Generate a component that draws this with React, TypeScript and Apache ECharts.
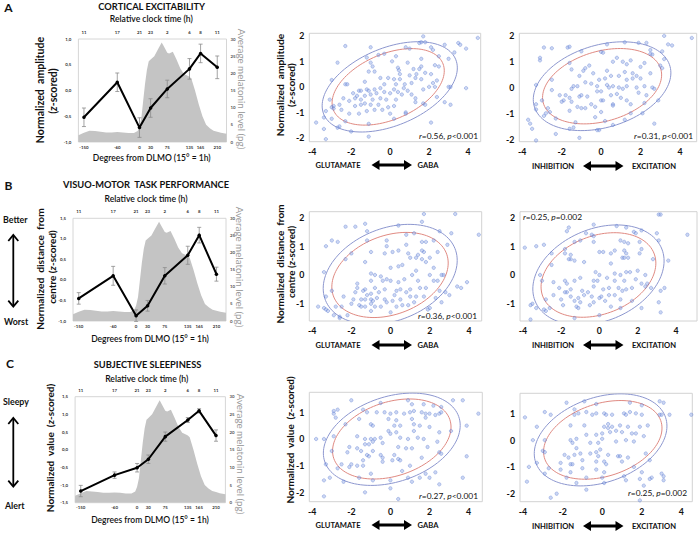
import React, { useEffect, useRef } from 'react';
import * as echarts from 'echarts';

// ---------------- DATA ----------------
const dlmoTicks = [-150, -60, 0, 30, 75, 135, 165, 210];
const clockLabels = ['11', '17', '21', '23', '2', '6', '8', '11'];

const meloX = [-165, -150, -135, -120, -105, -90, -75, -60, -45, -30, -15, -5, 0, 5, 10, 15, 20, 25, 30, 40, 50, 60, 65, 75, 80, 90, 100, 110, 120, 130, 135, 140, 150, 160, 170, 180, 190, 200, 210, 220, 235];
const meloY = [2, 2.7, 3.3, 3.2, 3.0, 2.8, 2.8, 2.9, 2.8, 2.6, 2.6, 3.2, 4.5, 7, 12, 17, 21, 23.5, 24, 25, 27, 29, 28, 26, 25.8, 26.3, 24, 21.5, 19.8, 19.3, 19, 18.5, 15, 11, 7.5, 5, 4, 3.3, 3, 2.7, 2.4];

const excMean = [-0.52, 0.16, -0.72, -0.34, 0.03, 0.42, 0.72, 0.45];
const excErr = [0.18, 0.18, 0.19, 0.18, 0.17, 0.2, 0.18, 0.22];
const vmMean = [-0.45, 0.1, -0.87, -0.63, 0.1, 0.6, 1.09, 0.14];
const vmErr = [0.14, 0.23, 0.14, 0.13, 0.2, 0.22, 0.19, 0.17];
const slMean = [-1.17, -0.72, -0.51, -0.27, 0.37, 0.84, 1.1, 0.4];
const slErr = [0.16, 0.09, 0.12, 0.12, 0.13, 0.07, 0.06, 0.16];

const ctxGluPts = [[4.5, 1.92], [1.7, 1.98], [1.6, 1.75], [1.8, 1.75], [1.5, 1.72], [3.5, 1.72], [3.6, 1.65], [3.9, 1.5], [2.8, 1.65], [-2.3, 1.6], [-1.0, 1.55], [0.8, 1.55], [1.0, 1.5], [2.1, 1.55], [2.2, 1.45], [3.3, 1.35], [-0.6, 1.25], [-0.3, 1.3], [0.3, 1.2], [-1.2, 1.15], [2.5, 1.2], [3.0, 1.1], [1.6, 1.1], [-2.7, 0.95], [-1.0, 0.95], [0.1, 1.0], [0.9, 0.95], [-0.9, 0.8], [2.3, 0.85], [1.6, 0.8], [2.5, 0.8], [0.4, 0.75], [0.45, 0.65], [1.2, 0.7], [1.5, 0.7], [-1.1, 0.6], [-0.8, 0.6], [1.8, 0.55], [-0.1, 0.35], [0.5, 0.5], [1.0, 0.45], [1.35, 0.5], [2.1, 0.5], [-2.3, 0.1], [-2.2, 0.1], [-3.0, 0.27], [-0.5, 0.35], [0.2, 0.3], [0.5, 0.3], [1.6, 0.3], [2.4, 0.25], [2.2, 0.15], [-1.3, 0.2], [-0.3, 0.1], [0.3, 0.1], [0.75, 0.1], [1.1, 0.15], [1.3, 0.35], [2.0, 0.0], [2.3, 0.0], [3.0, 0.0], [3.1, 0.0], [3.9, -0.05], [-1.6, -0.15], [-1.5, -0.15], [-1.2, -0.1], [-1.1, -0.15], [-0.8, -0.1], [-0.5, -0.05], [0.2, -0.1], [0.4, -0.2], [0.7, -0.05], [0.9, -0.15], [1.7, -0.1], [-1.9, -0.25], [-1.7, -0.35], [-1.3, -0.35], [-1.0, -0.3], [-0.7, -0.25], [-0.3, -0.2], [0.0, -0.25], [0.6, -0.3], [1.1, -0.3], [2.4, -0.4], [-3.1, -0.5], [-2.4, -0.45], [-2.1, -0.55], [-1.5, -0.5], [-1.8, -0.45], [-0.9, -0.5], [-0.5, -0.45], [-0.2, -0.5], [0.3, -0.5], [1.3, -0.45], [3.1, -0.7], [-3.0, -0.8], [-2.9, -0.75], [-2.9, -0.85], [-2.6, -0.7], [-1.8, -0.75], [-1.5, -0.7], [-1.3, -0.65], [-1.0, -0.7], [-0.6, -0.7], [-0.1, -0.8], [0.2, -0.75], [1.3, -0.6], [1.7, -0.65], [1.8, -0.7], [2.8, -0.6], [-3.3, -0.95], [-2.5, -0.9], [-2.1, -1.05], [-1.6, -1.05], [-1.2, -0.95], [-0.8, -0.9], [-0.4, -0.9], [0.0, -1.05], [0.8, -1.0], [-2.3, -1.35], [-3.0, -1.25], [-3.4, -1.2], [-2.6, -1.55], [-3.4, -1.65], [-2.0, -1.75], [-1.1, -1.45], [0.2, -1.25], [0.8, -1.05], [2.1, -1.4], [-3.3, -2.05], [-1.1, -1.95], [-3.8, -1.4], [-2.7, -1.6]];

const ctxExcPts = [[4.6, 1.92], [3.2, 2.0], [3.4, 1.67], [3.6, 1.63], [1.2, 1.75], [1.9, 1.73], [2.3, 1.73], [0.3, 1.67], [-1.7, 1.55], [-1.6, 1.58], [-2.9, 1.55], [-2.5, 1.52], [-1.0, 1.4], [0.0, 1.38], [0.1, 1.35], [3.1, 1.4], [2.5, 1.45], [2.6, 1.28], [2.5, 1.3], [-3.1, 1.15], [-3.1, 1.05], [-1.6, 0.95], [0.8, 1.15], [1.5, 1.05], [1.1, 1.0], [-1.5, 0.7], [-0.8, 0.75], [-0.9, 0.65], [-0.6, 0.85], [0.6, 1.0], [1.3, 0.9], [2.0, 0.8], [2.2, 0.95], [3.0, 0.85], [3.1, 0.75], [3.2, 1.1], [-0.4, 0.55], [0.3, 0.65], [0.5, 0.45], [0.9, 0.45], [1.2, 0.6], [1.6, 0.55], [1.8, 0.45], [2.5, 0.55], [-2.5, 0.3], [-1.1, 0.45], [-0.1, 0.3], [0.2, 0.35], [1.3, 0.3], [1.6, 0.35], [2.0, 0.35], [-3.3, 0.1], [-1.4, 0.05], [-1.5, -0.05], [-1.2, 0.05], [-0.8, 0.2], [-0.5, 0.15], [-0.2, 0.05], [0.3, 0.1], [0.4, 0.0], [0.6, 0.05], [0.9, 0.0], [1.1, -0.05], [1.3, 0.05], [1.8, 0.0], [2.2, 0.05], [2.6, 0.0], [2.7, -0.05], [-2.5, -0.1], [-2.1, -0.3], [-1.8, -0.3], [-1.6, -0.4], [-1.9, -0.5], [-1.1, -0.35], [-1.0, -0.3], [-0.7, -0.35], [-0.2, -0.15], [0.0, -0.15], [0.5, -0.3], [0.8, -0.25], [1.0, -0.4], [1.3, -0.5], [1.9, -0.2], [2.3, -0.3], [2.9, -0.5], [-3.0, -0.5], [-2.0, -0.55], [-1.5, -0.55], [-1.2, -0.75], [-0.8, -0.8], [-0.5, -0.65], [0.0, -0.5], [0.1, -0.5], [0.6, -0.65], [0.6, -0.7], [1.5, -0.65], [2.2, -0.6], [-3.3, -0.65], [-2.7, -0.8], [-2.6, -0.95], [-2.8, -1.0], [-1.6, -0.9], [-1.0, -0.8], [-0.3, -0.75], [0.0, -0.95], [1.5, -1.0], [2.1, -1.0], [-3.3, -0.85], [-2.3, -1.2], [-1.3, -1.35], [-0.3, -1.15], [0.2, -1.3], [0.6, -1.45], [1.2, -1.25], [2.7, -1.4], [-3.7, -1.25], [-3.6, -1.4], [-3.5, -1.6], [-2.3, -1.8], [-1.6, -1.6], [-1.4, -1.55], [-1.1, -1.95], [-0.1, -1.65], [-3.3, -2.05], [-2.9, -1.1], [-0.2, -1.65]];

const vmGluPts = [[1.7, 2.12], [3.3, 2.12], [4.5, 1.4], [1.6, 1.85], [-1.3, 1.78], [0.4, 1.72], [-2.3, 1.68], [-1.8, 1.68], [-1.2, 1.52], [2.5, 1.52], [3.1, 1.45], [1.2, 1.45], [0.8, 1.4], [-3.0, 1.2], [-2.7, 1.15], [1.6, 1.15], [1.8, 1.15], [2.2, 1.2], [-1.2, 1.2], [-0.2, 1.2], [-3.3, 1.0], [-0.2, 1.0], [0.8, 1.05], [2.9, 1.05], [-2.0, 0.75], [-1.0, 0.8], [-0.3, 0.75], [0.1, 0.8], [0.4, 0.85], [0.9, 0.75], [1.4, 0.7], [1.7, 0.8], [1.6, 0.85], [2.4, 0.8], [-2.3, 0.55], [-1.3, 0.45], [1.0, 0.6], [1.3, 0.6], [1.6, 0.55], [2.0, 0.6], [1.8, 0.45], [0.0, 0.25], [0.4, 0.3], [0.6, 0.35], [1.3, 0.15], [2.2, 0.25], [-3.4, 0.1], [-1.0, 0.05], [-0.5, -0.05], [-0.8, 0.0], [1.1, 0.0], [2.0, 0.0], [2.7, 0.0], [2.6, 0.0], [-1.7, -0.3], [-1.0, -0.2], [-0.4, -0.2], [-0.2, -0.15], [0.0, -0.2], [0.4, -0.25], [0.7, -0.15], [1.4, -0.2], [2.2, -0.2], [2.4, -0.2], [3.9, -0.25], [3.6, -0.45], [3.4, -0.4], [-1.7, -0.45], [-1.3, -0.5], [-0.8, -0.45], [-0.3, -0.5], [0.3, -0.55], [0.5, -0.5], [1.0, -0.5], [1.5, -0.45], [1.8, -0.45], [2.5, -0.55], [-3.0, -0.55], [-1.8, -0.6], [-1.4, -0.55], [-1.2, -0.7], [-1.0, -0.65], [-0.6, -0.6], [0.2, -0.7], [0.8, -0.6], [1.3, -0.75], [1.7, -0.75], [2.8, -0.6], [-3.3, -0.75], [-2.4, -0.75], [-1.9, -0.85], [-1.5, -0.85], [-1.3, -0.85], [-1.0, -0.85], [-0.9, -0.9], [-0.7, -0.8], [-0.3, -0.85], [0.1, -0.9], [0.5, -0.85], [1.0, -0.75], [2.3, -0.8], [3.0, -0.7], [-2.0, -1.0], [-1.6, -1.05], [-1.0, -1.0], [-0.8, -1.1], [-0.2, -0.95], [0.6, -1.05], [1.2, -0.95], [2.6, -0.95], [-2.8, -1.1], [-2.5, -1.1], [-1.5, -1.1], [-1.3, -1.1], [-0.5, -1.1], [0.3, -1.1], [0.9, -1.05], [-3.7, -1.1], [-3.4, -1.15], [-3.3, -1.2], [-3.2, -1.25], [-2.9, -1.4], [-2.6, -1.45], [-2.6, -1.5], [-2.2, -1.4], [-1.0, -1.25], [0.0, -1.3], [1.9, -1.2], [2.0, -1.15]];

const vmExcPts = [[3.1, 2.1], [3.2, 2.1], [4.6, 1.4], [-1.6, 1.65], [-0.3, 1.75], [0.9, 1.7], [1.4, 1.65], [-1.7, 1.52], [-1.3, 1.15], [-1.0, 1.2], [-0.7, 1.45], [-0.4, 1.4], [-0.3, 1.35], [1.8, 1.5], [1.9, 1.45], [2.2, 1.55], [3.0, 1.45], [-3.9, 0.95], [-3.3, 1.0], [-2.9, 1.05], [-0.3, 1.15], [1.1, 1.2], [1.3, 1.15], [1.5, 1.1], [2.1, 1.15], [3.1, 1.2], [-2.5, 0.75], [-1.8, 0.9], [-1.8, 0.75], [-1.5, 0.7], [0.2, 0.8], [0.0, 0.8], [0.8, 0.85], [0.6, 0.75], [1.3, 0.85], [1.4, 0.75], [2.1, 0.75], [2.2, 0.9], [-1.5, 0.55], [-1.3, 0.5], [-1.6, 0.55], [1.2, 0.6], [1.3, 0.6], [1.5, 0.6], [2.8, 0.55], [3.6, 0.5], [-2.5, 0.35], [-0.8, 0.45], [0.6, 0.4], [-3.1, 0.0], [-0.2, 0.1], [0.0, 0.0], [0.8, 0.05], [1.1, 0.0], [1.4, 0.1], [1.6, 0.1], [2.0, 0.15], [2.4, 0.0], [-3.0, -0.2], [-2.4, -0.25], [-1.8, -0.2], [-1.7, -0.3], [-1.3, -0.2], [-1.0, -0.1], [-0.3, -0.2], [-0.1, -0.2], [0.4, -0.1], [0.8, -0.2], [1.3, -0.2], [1.9, -0.15], [2.2, -0.3], [2.5, -0.3], [3.4, -0.45], [-2.1, -0.45], [-1.5, -0.5], [-0.9, -0.55], [-0.6, -0.6], [-0.3, -0.4], [0.2, -0.5], [0.5, -0.45], [1.0, -0.45], [1.4, -0.5], [1.7, -0.45], [2.4, -0.4], [2.7, -0.45], [3.2, -0.55], [-2.4, -0.7], [-1.7, -0.6], [-1.5, -0.75], [-1.1, -0.8], [-0.8, -0.7], [-0.4, -0.75], [0.1, -0.75], [0.5, -0.7], [0.8, -0.7], [1.2, -0.55], [-2.8, -0.85], [-2.0, -0.85], [-1.3, -0.9], [-1.0, -0.95], [-0.3, -0.95], [0.3, -0.9], [1.1, -0.85], [1.7, -0.9], [-3.5, -1.0], [-3.6, -1.05], [-3.3, -1.15], [-2.9, -1.2], [-2.8, -1.25], [-2.6, -1.15], [-1.9, -1.05], [-1.2, -1.1], [-1.1, -1.15], [-0.5, -1.05], [0.6, -1.1], [1.1, -1.15], [2.2, -1.15], [3.2, -1.3], [3.1, -0.95], [-3.6, -1.55], [-1.3, -1.5], [0.0, -1.4], [-1.8, -0.6], [0.0, -0.8]];

const slGluPts = [[4.5, 0.95], [3.7, 1.45], [3.2, 1.45], [0.9, 1.45], [1.1, 1.3], [-2.0, 1.45], [-0.5, 1.35], [1.7, 1.3], [2.2, 1.25], [2.6, 1.2], [-2.9, 1.05], [-2.7, 1.1], [-2.9, 0.95], [-1.4, 1.1], [-1.2, 1.0], [-0.7, 1.0], [-0.3, 1.0], [0.0, 0.95], [0.3, 1.0], [0.7, 0.95], [1.0, 1.0], [1.2, 1.05], [1.6, 1.0], [1.8, 0.95], [2.0, 0.95], [2.3, 0.9], [2.5, 0.95], [2.6, 1.0], [-2.8, 0.8], [-1.6, 0.75], [-0.1, 0.75], [0.3, 0.7], [1.1, 0.75], [1.8, 0.8], [-2.3, 0.55], [-1.0, 0.55], [-0.9, 0.5], [0.2, 0.5], [0.5, 0.5], [1.2, 0.55], [1.5, 0.5], [2.0, 0.45], [3.1, 0.3], [3.9, 0.5], [-2.9, 0.1], [-1.7, 0.1], [-0.1, 0.3], [0.0, 0.2], [0.3, 0.25], [1.2, 0.3], [2.5, 0.25], [-3.8, 0.0], [-3.4, 0.0], [-1.3, 0.0], [-1.0, 0.0], [-0.8, 0.0], [-0.5, 0.05], [0.5, 0.05], [0.9, 0.0], [1.4, 0.05], [1.7, 0.0], [2.4, -0.1], [-2.1, -0.3], [-1.7, -0.35], [-1.3, -0.2], [-1.1, -0.2], [-0.9, -0.1], [-0.4, -0.15], [0.4, -0.3], [0.8, -0.35], [1.1, -0.35], [1.9, -0.3], [2.5, -0.5], [2.6, -0.55], [-3.0, -0.45], [-2.2, -0.5], [-1.5, -0.45], [-1.2, -0.6], [-0.9, -0.45], [-0.5, -0.6], [0.2, -0.6], [0.4, -0.75], [1.6, -0.7], [3.9, -0.65], [-2.5, -0.95], [-2.0, -0.95], [-1.7, -1.0], [-1.4, -0.8], [-1.1, -0.65], [-0.4, -0.85], [0.1, -0.8], [0.5, -0.8], [-3.3, -0.95], [-2.7, -1.1], [-2.1, -1.05], [-1.4, -1.0], [-1.0, -1.3], [0.6, -1.2], [1.8, -1.3], [2.3, -1.25], [-3.1, -1.45], [-2.4, -1.6], [-1.6, -1.45], [-0.9, -1.55], [0.0, -1.55], [0.9, -1.45], [1.1, -1.6], [1.5, -1.45], [2.0, -1.45], [2.5, -1.7], [3.7, -1.45], [-3.4, -1.55], [-1.3, -2.0], [0.0, -1.85], [0.4, -2.25], [-3.4, -2.15], [-0.4, -0.7], [1.0, -1.0]];

const slExcPts = [[4.5, 0.95], [3.1, 1.4], [2.9, 1.45], [1.4, 1.4], [2.0, 1.3], [-1.8, 1.4], [-0.9, 1.45], [-0.3, 1.35], [-3.9, 0.85], [-2.6, 0.95], [-1.4, 1.15], [-1.2, 1.0], [-1.4, 0.95], [-0.8, 1.05], [-0.5, 0.95], [-0.3, 1.0], [0.1, 1.0], [0.2, 0.95], [0.5, 0.95], [1.1, 1.0], [1.2, 0.95], [1.4, 1.05], [1.7, 1.0], [2.0, 0.95], [2.9, 0.95], [3.0, 0.95], [3.4, 0.95], [-3.3, 0.5], [-2.9, 1.05], [-1.6, 0.55], [-0.9, 0.55], [0.1, 0.5], [0.3, 0.45], [0.5, 0.5], [0.9, 0.55], [1.3, 0.5], [1.9, 0.5], [2.3, 0.55], [-3.5, 0.0], [-2.9, 0.0], [-1.6, 0.0], [-1.3, 0.05], [-0.8, 0.2], [-0.3, 0.2], [0.0, 0.25], [0.4, 0.3], [0.7, 0.35], [1.0, 0.3], [1.5, 0.25], [1.7, 0.25], [-1.5, -0.1], [-1.3, -0.3], [-0.6, -0.1], [-0.2, -0.1], [0.0, 0.05], [0.7, -0.05], [1.2, 0.0], [1.6, -0.05], [2.1, 0.15], [-3.0, -0.4], [-2.9, -0.45], [-1.9, -0.55], [-1.7, -0.65], [-1.4, -0.55], [-1.1, -0.5], [-0.6, -0.5], [-0.3, -0.45], [-0.1, -0.35], [0.3, -0.55], [0.8, -0.6], [1.3, -0.65], [2.2, -0.5], [2.4, -0.75], [-3.3, -0.85], [-2.1, -0.85], [-1.6, -0.9], [-1.5, -0.9], [-1.0, -0.75], [-0.2, -0.6], [0.1, -0.8], [0.2, -0.9], [0.9, -0.6], [1.0, -0.8], [-3.7, -1.0], [-2.7, -1.05], [-2.1, -1.1], [-1.6, -1.2], [-1.0, -1.05], [-0.3, -1.1], [0.1, -1.2], [1.6, -1.0], [2.0, -1.2], [2.5, -1.4], [-2.9, -1.25], [-1.8, -1.4], [-0.8, -1.4], [0.0, -1.4], [1.1, -1.35], [1.9, -1.45], [2.4, -1.45], [3.0, -1.25], [3.1, -1.35], [3.1, -1.5], [-3.8, -1.55], [-2.3, -2.0], [-2.6, -2.15], [-1.3, -1.6], [-0.8, -1.85], [0.1, -1.6], [1.2, -1.5], [1.9, -2.25], [2.1, -1.7], [-0.3, -0.8], [0.3, 0.6]];

// ellipse params: [cx, cy, rx, ry, tilt, colorIndex(0 red, 1 blue)]
const ctxGluEll = [[-0.1, 0, 2.88, 1.5, 0.42, 0], [-0.02, 0, 3.47, 1.77, 0.42, 1]];
const ctxExcEll = [[0.05, 0.05, 3.02, 1.46, 0.3, 0], [0.05, 0.05, 3.49, 1.72, 0.3, 1]];
const vmGluEll = [[-0.03, 0, 2.97, 1.48, 0.28, 0], [-0.02, 0.02, 3.42, 1.74, 0.28, 1]];
const vmExcEll = [[-0.05, 0, 3.0, 1.47, 0.28, 0], [-0.05, 0, 3.43, 1.74, 0.28, 1]];
const slGluEll = [[0.07, 0, 3.03, 1.5, 0.3, 0], [0.07, -0.01, 3.5, 1.73, 0.3, 1]];
const slExcEll = [[0.03, 0.01, 2.99, 1.47, 0.3, 0], [-0.08, 0.01, 3.35, 1.72, 0.3, 1]];

// ---------------- BUILD ----------------
const FONT = 'Lato, "Open Sans", "Liberation Sans", sans-serif';

function errorBar(params: any, api: any) {
  const x = api.value(0);
  const lo = api.coord([x, api.value(1)]);
  const hi = api.coord([x, api.value(2)]);
  const c = 2;
  const style = { stroke: '#8c8c8c', lineWidth: 0.8 };
  return {
    type: 'group',
    children: [
      { type: 'line', shape: { x1: lo[0], y1: lo[1], x2: hi[0], y2: hi[1] }, style },
      { type: 'line', shape: { x1: lo[0] - c, y1: lo[1], x2: lo[0] + c, y2: lo[1] }, style },
      { type: 'line', shape: { x1: hi[0] - c, y1: hi[1], x2: hi[0] + c, y2: hi[1] }, style },
    ],
  };
}

function ellipseItem(params: any, api: any) {
  const cx = api.value(0), cy = api.value(1), rx = api.value(2), ry = api.value(3), rho = api.value(4), ci = api.value(5);
  const pts: number[][] = [];
  const s = Math.sqrt(1 - rho * rho);
  for (let k = 0; k <= 120; k++) {
    const t = (k / 120) * Math.PI * 2;
    pts.push(api.coord([cx + rx * Math.cos(t), cy + ry * (rho * Math.cos(t) + s * Math.sin(t))]));
  }
  return {
    type: 'polyline',
    shape: { points: pts },
    style: { stroke: ci ? '#8d97cf' : '#e08a82', lineWidth: 1, fill: null },
  };
}

// wrap plain segments of a text into {n|...} so every part gets the same font
function wrapRich(text: string) {
  if (text.indexOf('{') < 0) return text;
  const parts = text.split(/(\{[a-z]\|[^}]*\})/);
  return parts.filter((p) => p.length > 0).map((p) => (p.charAt(0) === '{' ? p : '{n|' + p + '}')).join('');
}

function buildOption() {
  const grids: any[] = [];
  const xAxes: any[] = [];
  const yAxes: any[] = [];
  const series: any[] = [];
  const noLine = { axisLine: { show: false }, axisTick: { show: false }, splitLine: { show: false } };
  const tiny = { fontSize: 4.4, fontWeight: 'bold', color: '#333', fontFamily: FONT };

  function addLine(g: number[], yMin: number, yMax: number, mean: number[], err: number[]) {
    const gi = grids.length;
    grids.push({ left: g[0], top: g[1], width: g[2], height: g[3], show: true, borderColor: '#d6d6d6', borderWidth: 1, backgroundColor: 'transparent' });
    const xb = xAxes.length;
    const findTick = (v: number) => dlmoTicks.findIndex((t) => Math.abs(t - v) < 1e-6);
    xAxes.push({
      type: 'value', gridIndex: gi, min: -165, max: 235, interval: 15, position: 'bottom', ...noLine,
      axisLabel: { ...tiny, margin: 3, interval: 0, hideOverlap: false, showMinLabel: true, showMaxLabel: true,
        formatter: (v: number) => { const i = findTick(v); return i >= 0 ? String(dlmoTicks[i]) : ''; } },
    });
    xAxes.push({
      type: 'value', gridIndex: gi, min: -165, max: 235, interval: 15, position: 'top', ...noLine,
      axisLabel: { ...tiny, margin: 4.5, interval: 0, hideOverlap: false, showMinLabel: true, showMaxLabel: true,
        formatter: (v: number) => { const i = findTick(v); return i >= 0 ? clockLabels[i] : ''; } },
    });
    const yl = yAxes.length;
    yAxes.push({
      type: 'value', gridIndex: gi, min: yMin, max: yMax, interval: 0.5, position: 'left', ...noLine,
      axisLabel: { ...tiny, margin: 7, formatter: (v: number) => v.toFixed(1).replace('.', ',') },
    });
    yAxes.push({
      type: 'value', gridIndex: gi, min: 0, max: 30, interval: 5, position: 'right', ...noLine,
      axisLabel: { ...tiny, color: '#555', margin: 4, formatter: (v: number) => String(v) },
    });
    series.push({
      type: 'line', xAxisIndex: xb, yAxisIndex: yl + 1, data: meloX.map((x, i) => [x, meloY[i]]),
      showSymbol: false, symbol: 'none', lineStyle: { width: 0 }, areaStyle: { color: '#c4c4c4', opacity: 1 }, z: 1, silent: true,
    });
    series.push({
      type: 'custom', xAxisIndex: xb, yAxisIndex: yl, coordinateSystem: 'cartesian2d',
      data: dlmoTicks.map((x, i) => [x, mean[i] - err[i], mean[i] + err[i]]),
      encode: { x: 0, y: [1, 2] }, renderItem: errorBar, z: 2, silent: true,
    });
    series.push({
      type: 'line', xAxisIndex: xb, yAxisIndex: yl, data: dlmoTicks.map((x, i) => [x, mean[i]]),
      symbol: 'circle', symbolSize: 3.5, itemStyle: { color: '#000' }, lineStyle: { color: '#000', width: 2 }, z: 3, silent: true,
    });
  }

  function addScatter(g: number[], xr: number[], yr: number[], pts: number[][], ell: number[][]) {
    const gi = grids.length;
    grids.push({ left: g[0], top: g[1], width: g[2], height: g[3], show: true, borderColor: '#d2d2d2', borderWidth: 1, backgroundColor: 'transparent' });
    const lab = { fontSize: 8.8, fontWeight: 'bold', color: '#111', fontFamily: FONT, interval: 0, hideOverlap: false, showMinLabel: true, showMaxLabel: true };
    const xi = xAxes.length;
    xAxes.push({
      type: 'value', gridIndex: gi, min: xr[0], max: xr[1], interval: 0.05, ...noLine,
      axisLabel: { ...lab, margin: 5, formatter: (v: number) => { const r = Math.round(v); return Math.abs(v - r) < 1e-6 && r % 2 === 0 ? String(r) : ''; } },
    });
    const yi = yAxes.length;
    yAxes.push({
      type: 'value', gridIndex: gi, min: yr[0], max: yr[1], interval: 0.05, ...noLine,
      axisLabel: { ...lab, margin: 5, formatter: (v: number) => { const r = Math.round(v); return Math.abs(v - r) < 1e-6 ? String(r) : ''; } },
    });
    series.push({
      type: 'custom', xAxisIndex: xi, yAxisIndex: yi, coordinateSystem: 'cartesian2d', data: ell,
      encode: { x: 0, y: 1 }, renderItem: ellipseItem, clip: true, z: 2, silent: true,
    });
    series.push({
      type: 'scatter', xAxisIndex: xi, yAxisIndex: yi, data: pts, symbol: 'circle', symbolSize: 3.4,
      itemStyle: { color: 'rgba(140,165,228,0.55)', borderColor: 'rgba(70,105,200,0.8)', borderWidth: 0.5 }, z: 3, silent: true,
    });
  }

  addLine([78.4, 39, 148.1, 103], -1, 1, excMean, excErr);
  addLine([73, 218.3, 153, 102.7], -1, 1.5, vmMean, vmErr);
  addLine([75.1, 396.7, 150.3, 106], -1.5, 1.5, slMean, slErr);

  addScatter([309.3, 33.3, 171.4, 108.4], [-4.15, 4.65], [-2.15, 2.1], ctxGluPts, ctxGluEll);
  addScatter([519.3, 33.3, 177.4, 108.4], [-4.15, 4.85], [-2.1, 2.1], ctxExcPts, ctxExcEll);
  addScatter([309.3, 211.7, 172.4, 109.3], [-4.15, 4.65], [-1.6, 2.2], vmGluPts, vmGluEll);
  addScatter([520, 211.7, 178, 109.3], [-4.15, 5.1], [-1.6, 2.2], vmExcPts, vmExcEll);
  addScatter([309.3, 392.3, 173, 109.4], [-4.15, 4.7], [-2.35, 1.75], slGluPts, slGluEll);
  addScatter([520, 393.3, 172.3, 108.4], [-4.15, 4.55], [-2.3, 1.75], slExcPts, slExcEll);

  // ---------- graphic texts ----------
  const G: any[] = [];
  const txt = (x: number, y: number, text: string, o: any = {}) => {
    const align = o.align || 'center';
    const size = o.size || 8;
    const weight = o.weight || 'bold';
    const color = o.color || '#111';
    const rich: any = {
      i: { fontStyle: 'italic', fontSize: size, fontWeight: weight, fontFamily: FONT, fill: color, color },
      n: { fontStyle: 'normal', fontSize: size, fontWeight: weight, fontFamily: FONT, fill: color, color },
    };
    G.push({
      type: 'text', x, y, rotation: o.rot || 0, silent: true, z: 100,
      style: {
        text: wrapRich(text), rich, fontSize: size, fontWeight: weight, fontFamily: FONT, fill: color,
        align, verticalAlign: 'middle', textAlign: align, textVerticalAlign: 'middle',
      },
    });
  };
  const R = Math.PI / 2;
  const hArrow = (x1: number, x2: number, y: number) => {
    const hl = 8, hh = 5, st = 1.4;
    G.push({
      type: 'polygon', silent: true, z: 100,
      shape: { points: [[x1, y], [x1 + hl, y - hh], [x1 + hl, y - st], [x2 - hl, y - st], [x2 - hl, y - hh], [x2, y], [x2 - hl, y + hh], [x2 - hl, y + st], [x1 + hl, y + st], [x1 + hl, y + hh]] },
      style: { fill: '#000' },
    });
  };
  const vArrow = (x: number, y1: number, y2: number) => {
    const st = { stroke: '#000', lineWidth: 1.8, fill: null };
    G.push({ type: 'line', silent: true, shape: { x1: x, y1: y1 + 1, x2: x, y2: y2 - 1 }, style: st });
    G.push({ type: 'polyline', silent: true, shape: { points: [[x - 5, y1 + 6], [x, y1], [x + 5, y1 + 6]] }, style: st });
    G.push({ type: 'polyline', silent: true, shape: { points: [[x - 5, y2 - 6], [x, y2], [x + 5, y2 - 6]] }, style: st });
  };

  // panel letters
  txt(8.5, 7, 'A', { size: 12 });
  txt(8.5, 185, 'B', { size: 12 });
  txt(10, 363.5, 'C', { size: 12 });

  // titles
  const TS = 9.3;
  txt(151.7, 6.5, 'CORTICAL EXCITABILITY', { size: TS });
  txt(146, 184, 'VISUO-MOTOR  TASK PERFORMANCE', { size: TS });
  txt(147.5, 364, 'SUBJECTIVE SLEEPINESS', { size: TS });
  // top axis names
  const RS = { size: 8.6, weight: '600' };
  txt(151.3, 19.3, 'Relative clock time (h)', RS);
  txt(146, 199, 'Relative clock time (h)', RS);
  txt(146.7, 379, 'Relative clock time (h)', RS);
  // bottom axis names
  const DS = { size: 8.5, weight: '600' };
  txt(151.7, 158.3, 'Degrees from DLMO (15° = 1h)', DS);
  txt(150, 339.3, 'Degrees from DLMO (15° = 1h)', DS);
  txt(150, 520, 'Degrees from DLMO (15° = 1h)', DS);
  // left axis names (line charts)
  txt(40, 90, 'Normalized  amplitude', { size: 10.6, rot: R });
  txt(53, 91, '({i|z}-scored)', { size: 10.6, rot: R });
  txt(40, 269, 'Normalized  distance  from', { size: 10.2, rot: R });
  txt(51.5, 267, 'centre ({i|z}-scored)', { size: 10, rot: R });
  txt(50, 448, 'Normalized  value  ({i|z}-scored)', { size: 10.1, rot: R });
  // right axis names
  const grey = { size: 9.8, weight: 'normal', color: '#9a9a9a', rot: -R };
  txt(242, 89, 'Average melatonin level (pg)', grey);
  txt(239.5, 267, 'Average melatonin level (pg)', grey);
  txt(241, 454, 'Average melatonin level (pg)', grey);
  // Better/Worst, Sleepy/Alert
  const BS = { size: 8.8, align: 'left' };
  txt(3, 219.3, 'Better', BS);
  txt(4, 321.7, 'Worst', BS);
  txt(3, 401.7, 'Sleepy', BS);
  txt(5, 505, 'Alert', BS);
  vArrow(13.3, 235, 306.7);
  vArrow(13.3, 418, 486.7);

  // scatter y names
  txt(280, 85, 'Normalized  amplitude', { size: 10.2, rot: R });
  txt(291, 85, '({i|z}-scored)', { size: 10.2, rot: R });
  txt(280, 264, 'Normalized  distance  from', { size: 10, rot: R });
  txt(290.5, 262, 'centre ({i|z}-scored)', { size: 9.8, rot: R });
  txt(290, 440, 'Normalized  value  ({i|z}-scored)', { size: 10, rot: R });

  // scatter x category labels with arrows
  const CS = { size: 7.6 };
  const gluRow = (y: number) => { txt(338, y, 'GLUTAMATE', CS); hArrow(371.5, 412, y); txt(428, y, 'GABA', CS); };
  const excRow = (y: number) => { txt(553, y, 'INHIBITION', CS); hArrow(583, 623.5, y); txt(654, y, 'EXCITATION', CS); };
  gluRow(165); excRow(166);
  gluRow(345); excRow(345);
  gluRow(525); excRow(526);

  // correlation texts
  const rt = { size: 8.4, weight: 'normal', align: 'right' };
  txt(478, 136, '{i|r}=0.56, {i|p}<0.001', rt);
  txt(693, 136, '{i|r}=0.31, {i|p}<0.001', rt);
  txt(477, 316, '{i|r}=0.36, {i|p}<0.001', rt);
  txt(523, 217, '{i|r}=0.25, {i|p}=0.002', { size: 8.4, weight: 'normal', align: 'left' });
  txt(478, 496, '{i|r}=0.27, {i|p}<0.001', rt);
  txt(687, 493, '{i|r}=0.25, {i|p}=0.002', rt);

  return {
    animation: false,
    backgroundColor: '#fff',
    grid: grids,
    xAxis: xAxes,
    yAxis: yAxes,
    series,
    graphic: G,
  };
}

export default function App() {
  const ref = useRef<HTMLDivElement>(null);
  useEffect(() => {
    const chart = echarts.init(ref.current!, null, { renderer: 'svg' });
    chart.setOption(buildOption() as any);
    return () => chart.dispose();
  }, []);
  return <div ref={ref} style={{ position: 'fixed', left: 0, top: 0, width: 700, height: 533, background: '#fff' }} />;
}
